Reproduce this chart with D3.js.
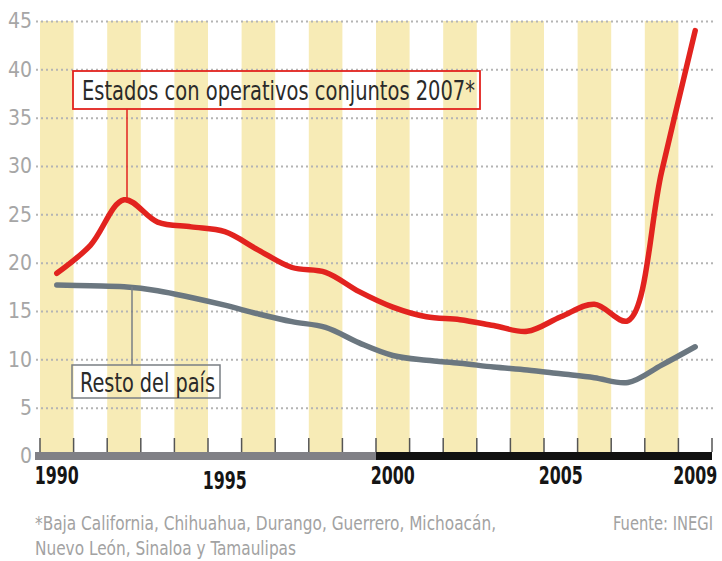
<!DOCTYPE html>
<html>
<head>
<meta charset="utf-8">
<script src="https://cdn.jsdelivr.net/npm/d3@7"></script>
<style>
  body { margin: 0; background: #fff; }
  svg { display: block; }
  text { font-family: "Liberation Sans Narrow", "DejaVu Sans Condensed", "Roboto", sans-serif; }
</style>
</head>
<body>
<svg id="chart" width="722" height="561"></svg>
<script>
// Homicide rate per 100,000 inhabitants, 1990-2009
const years = [1990, 1991, 1992, 1993, 1994, 1995, 1996, 1997, 1998, 1999,
               2000, 2001, 2002, 2003, 2004, 2005, 2006, 2007, 2008, 2009];
const estados = [18.9, 21.8, 26.5, 24.2, 23.7, 23.2, 21.3, 19.5, 19.0, 17.0,
                 15.4, 14.4, 14.1, 13.5, 12.9, 14.4, 15.7, 14.0, 29.4, 44.0];
const resto = [17.7, 17.6, 17.5, 17.1, 16.4, 15.6, 14.7, 13.9, 13.3, 11.7,
               10.4, 9.9, 9.6, 9.2, 8.9, 8.5, 8.1, 7.6, 9.4, 11.3];
const yTicks = [0, 5, 10, 15, 20, 25, 30, 35, 40, 45];
const xLabels = [1990, 1995, 2000, 2005, 2009];
const labelEstados = "Estados con operativos conjuntos 2007*";
const labelResto = "Resto del país";
const footnote = ["*Baja California, Chihuahua, Durango, Guerrero, Michoacán,",
                  "Nuevo León, Sinaloa y Tamaulipas"];
const source = "Fuente: INEGI";

const svg = d3.select("#chart");
const plotLeft = 40, plotRight = 712, plotTop = 21, plotBase = 456;

const x = d3.scaleBand().domain(years).range([plotLeft, plotRight]).padding(0);
const y = d3.scaleLinear().domain([0, 45]).range([plotBase, plotTop]);
const cx = d => x(d) + x.bandwidth() / 2;

// alternating yellow year bands
svg.append("g").selectAll("rect")
  .data(years.filter(yr => yr % 2 === 0))
  .join("rect")
  .attr("x", d => x(d))
  .attr("y", y(45))
  .attr("width", x.bandwidth())
  .attr("height", 452 - y(45))
  .attr("fill", "#f7ebb6");

// dotted gridlines and value labels
const yAxis = svg.append("g")
  .attr("transform", "translate(36,0)")
  .call(d3.axisLeft(y).tickValues(yTicks).tickSize(-(713 - 36)).tickPadding(4));
yAxis.select(".domain").remove();
yAxis.selectAll(".tick line")
  .attr("stroke", "#b4b4b4")
  .attr("stroke-width", 2)
  .attr("stroke-dasharray", "2,3")
  .filter(d => d === 0).remove();
yAxis.selectAll(".tick text")
  .attr("fill", "#a6a6a6")
  .attr("font-size", 21)
  .attr("font-family", "'Liberation Sans Narrow','DejaVu Sans Condensed',sans-serif");

// tick marks at year boundaries
const bounds = years.map(d => x(d)).concat([x(years[years.length - 1]) + x.bandwidth()]);
svg.append("g").selectAll("line")
  .data(bounds)
  .join("line")
  .attr("x1", d => d).attr("x2", d => d)
  .attr("y1", 438).attr("y2", 452)
  .attr("stroke", "#555")
  .attr("stroke-width", 1.5);

// baseline bar: grey for the 1990s, black from 2000
svg.append("rect")
  .attr("x", 35).attr("y", 452)
  .attr("width", x(2000) - 35).attr("height", 8)
  .attr("fill", "#808086");
svg.append("rect")
  .attr("x", x(2000)).attr("y", 452)
  .attr("width", plotRight - x(2000)).attr("height", 8)
  .attr("fill", "#111");

// year labels
const xAxis = svg.append("g")
  .attr("transform", "translate(0,466)")
  .call(d3.axisBottom(x).tickValues(xLabels).tickSize(0).tickPadding(0));
xAxis.select(".domain").remove();
xAxis.selectAll(".tick text")
  .attr("fill", "#151515")
  .attr("font-size", 24)
  .attr("font-weight", "bold")
  .attr("font-family", "'Liberation Sans Narrow','DejaVu Sans Condensed',sans-serif")
  .attr("dy", d => d === 1995 ? "0.95em" : "0.75em")
  .attr("textLength", 44)
  .attr("lengthAdjust", "spacingAndGlyphs");

// series lines
const line = d3.line()
  .x((d, i) => cx(years[i]))
  .y(d => y(d))
  .curve(d3.curveCatmullRom.alpha(0.5));

svg.append("path")
  .datum(resto)
  .attr("d", line)
  .attr("fill", "none")
  .attr("stroke", "#6b7780")
  .attr("stroke-width", 5.5)
  .attr("stroke-linecap", "round");

svg.append("path")
  .datum(estados)
  .attr("d", line)
  .attr("fill", "none")
  .attr("stroke", "#e2231f")
  .attr("stroke-width", 5.5)
  .attr("stroke-linecap", "round");

// callout for the states with joint operations
const i92 = years.indexOf(1992);
svg.append("line")
  .attr("x1", cx(1992) + 3).attr("x2", cx(1992) + 3)
  .attr("y1", 109).attr("y2", y(estados[i92]))
  .attr("stroke", "#e2231f").attr("stroke-width", 1.5);
svg.append("rect")
  .attr("x", 73).attr("y", 71).attr("width", 407).attr("height", 38)
  .attr("fill", "none").attr("stroke", "#e2231f").attr("stroke-width", 1.8);
svg.append("text")
  .attr("x", 82).attr("y", 100)
  .attr("font-size", 27)
  .attr("fill", "#2a2a2a")
  .attr("textLength", 393)
  .attr("lengthAdjust", "spacingAndGlyphs")
  .text(labelEstados);

// callout for the rest of the country
svg.append("line")
  .attr("x1", cx(1992) + 8).attr("x2", cx(1992) + 8)
  .attr("y1", y(resto[i92])).attr("y2", 365)
  .attr("stroke", "#7a7f84").attr("stroke-width", 1.5);
svg.append("rect")
  .attr("x", 72).attr("y", 365).attr("width", 148).attr("height", 33)
  .attr("fill", "none").attr("stroke", "#7a7f84").attr("stroke-width", 1.5);
svg.append("text")
  .attr("x", 80).attr("y", 392)
  .attr("font-size", 27)
  .attr("fill", "#2a2a2a")
  .attr("textLength", 135)
  .attr("lengthAdjust", "spacingAndGlyphs")
  .text(labelResto);

// footnote and source
svg.append("text")
  .attr("x", 35).attr("y", 530)
  .attr("font-size", 19).attr("fill", "#a2a2a2")
  .attr("textLength", 461).attr("lengthAdjust", "spacingAndGlyphs")
  .text(footnote[0]);
svg.append("text")
  .attr("x", 35).attr("y", 555)
  .attr("font-size", 19).attr("fill", "#a2a2a2")
  .attr("textLength", 261).attr("lengthAdjust", "spacingAndGlyphs")
  .text(footnote[1]);
svg.append("text")
  .attr("x", 713).attr("y", 530)
  .attr("text-anchor", "end")
  .attr("font-size", 19).attr("fill", "#a2a2a2")
  .attr("textLength", 100).attr("lengthAdjust", "spacingAndGlyphs")
  .text(source);
</script>
</body>
</html>
